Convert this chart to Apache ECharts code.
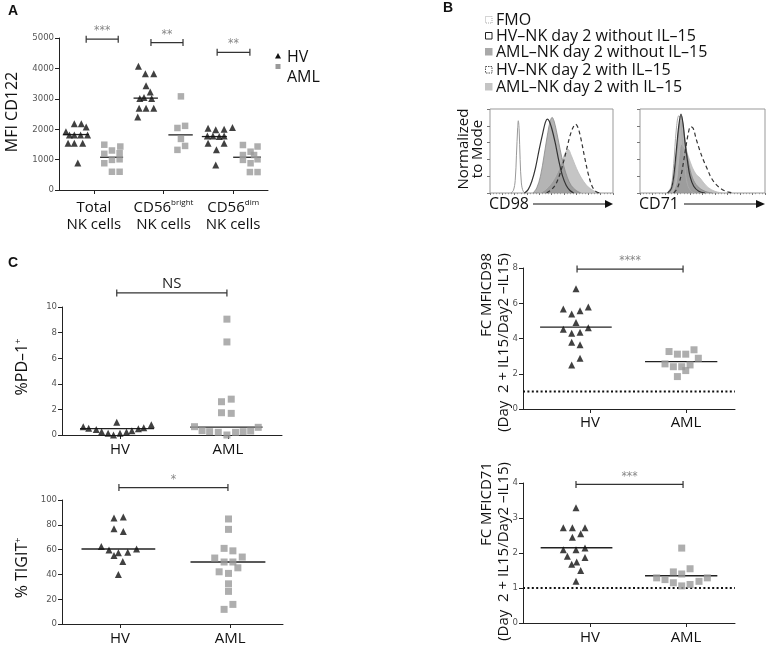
<!DOCTYPE html>
<html><head><meta charset="utf-8">
<script src="https://cdn.jsdelivr.net/npm/echarts@6/dist/echarts.min.js"></script>
<style>html,body{margin:0;padding:0;background:#fff}#c{width:767px;height:646px}</style>
</head><body><div id="c"></div>
<script>
// ================= DATA =================
// ---- Panel A: MFI CD122 ----
const aCategories = ['Total', 'CD56bright', 'CD56dim'];
const aHVTotal   = [1920,2180,2180,2070,1810,1810,1810,1810,1540,1540,1540,890];
const aHVTotalX  = [-0.40,-0.28,-0.18,-0.11,-0.35,-0.28,-0.19,-0.09,-0.37,-0.28,-0.16,-0.23];
const aAMLTotal  = [1490,1430,1300,1210,1190,990,1010,880,600,600];
const aAMLTotalX = [0.15,0.38,0.26,0.37,0.15,0.26,0.37,0.15,0.26,0.37];
const aHVBright  = [4070,3820,3820,3430,3220,3010,3040,3010,2690,2690,2690,2400];
const aHVBrightX = [-0.36,-0.26,-0.14,-0.25,-0.19,-0.34,-0.28,-0.17,-0.35,-0.25,-0.14,-0.37];
const aAMLBright  = [3080,2040,2110,1680,1320,1450];
const aAMLBrightX = [0.25,0.20,0.31,0.25,0.20,0.31];
const aHVDim   = [2030,1980,2000,2060,1780,1780,1760,1780,1540,1320,1540,820];
const aHVDimX  = [-0.36,-0.25,-0.13,-0.01,-0.37,-0.29,-0.20,-0.13,-0.36,-0.24,-0.13,-0.25];
const aAMLDim  = [1480,1430,1260,1150,1150,1010,990,880,590,590];
const aAMLDimX = [0.14,0.35,0.25,0.14,0.30,0.35,0.14,0.25,0.24,0.35];
const aMedHV  = [1824,3022,1758];
const aMedAML = [1077,1813,1077];
const aSig  = ['***','**','**'];
const aSigY = [4960,4850,4530];

// ---- Panel B: histograms [channel %, normalized %] ----
const cd98FMO    = [[17,0],[19,3],[20.5,15],[21.5,45],[22.5,78],[23,86],[23.7,75],[24.5,40],[25.5,12],[27,2],[29,0]];
const cd98HVno   = [[28,0],[31,4],[34,14],[37,30],[40,52],[43,72],[45,84],[46.5,88],[48,86],[50,78],[53,60],[56,38],[59,20],[62,9],[65,3],[68,0]];
const cd98AMLno  = [[35,0],[38,6],[41,20],[44,45],[47,72],[49,86],[50.5,90],[52,86],[54,74],[57,52],[60,32],[63,18],[66,9],[70,3],[74,0]];
const cd98AMLil  = [[40,0],[45,4],[50,12],[54,22],[58,36],[61,47],[63.5,52],[66,45],[69,34],[72,24],[76,14],[80,7],[84,3],[89,0]];
const cd98HVil   = [[46,0],[50,4],[54,12],[58,28],[62,50],[65,68],[67.5,78],[69.5,82],[71.5,78],[74,64],[77,42],[80,22],[83,8],[86,2],[89,0]];
const cd71FMO    = [[22,0],[25,8],[27,35],[29,75],[31,92],[32.5,88],[34,60],[36,30],[38,10],[41,2],[44,0]];
const cd71HVno   = [[22,0],[25,5],[27,20],[29,50],[31,80],[32.8,94],[34.5,82],[36,60],[38,38],[40,20],[43,8],[47,2],[52,0]];
const cd71AMLno  = [[23,0],[26,6],[28,25],[30,60],[32,88],[33,92],[34.5,80],[36.5,58],[39,35],[42,18],[46,8],[52,2],[58,0]];
const cd71AMLil  = [[26,0],[29,12],[31,40],[33,58],[35,55],[37,50],[39,42],[42,30],[45,22],[48,18],[51,12],[55,6],[60,2],[66,0]];
const cd71HVil   = [[27,0],[30,6],[33,22],[36,48],[38.5,70],[40.5,79],[42.5,77],[45,64],[48,50],[51,38],[54,28],[57,18],[61,10],[66,4],[71,1],[75,0]];
const legendB = ['FMO','HV\u2013NK day 2 without IL\u201315','AML\u2013NK day 2 without IL\u201315','HV\u2013NK day 2 with IL\u201315','AML\u2013NK day 2 with IL\u201315'];

// ---- Panel C ----
const groupsC = ['HV','AML'];
const pd1HV   = [0.65,0.52,0.42,0.26,0.13,0.0,0.13,0.23,0.34,0.49,0.57,0.8,0.99];
const pd1HVX  = [-0.34,-0.29,-0.22,-0.17,-0.11,-0.06,0,0.06,0.11,0.17,0.22,0.29,-0.03];
const pd1AML  = [0.65,0.34,0.26,0.21,0,0.21,0.26,0.31,0.6,1.74,1.69,2.6,2.8,7.27,9.05];
const pd1AMLX = [-0.31,-0.24,-0.17,-0.09,-0.01,0.07,0.14,0.21,0.28,-0.06,0.03,-0.06,0.03,-0.01,-0.01];
const pd1Med  = [0.5,0.62];
const tigitHV   = [85.5,86.3,76.8,74.5,62.4,59.7,60.5,55.3,57.4,57.9,50.5,40];
const tigitHVX  = [-0.055,0.03,-0.055,0.03,-0.17,-0.10,0.15,-0.055,-0.015,0.07,0.025,-0.015];
const tigitAML  = [84.7,76.3,61,59,53.2,50,50,54,45.3,42.1,40.8,32.4,26.3,15.8,11.8];
const tigitAMLX = [-0.015,-0.015,-0.055,0.025,-0.14,-0.055,0.025,0.11,0.07,-0.10,-0.015,-0.015,-0.015,0.025,-0.055];
const tigitMed  = [60.5,50];
const cd98HV   = [6.82,5.67,5.39,5.58,5.79,4.91,4.53,4.3,4.36,4.61,3.79,3.64,2.88,2.5];
const cd98HVX  = [-0.146,-0.278,-0.191,-0.104,-0.018,-0.146,-0.278,-0.191,-0.104,-0.018,-0.191,-0.104,-0.104,-0.191];
const cd98AML  = [3.26,3.11,3.11,3.36,2.88,2.56,2.4,2.4,2.5,2.18,1.84];
const cd98AMLX = [-0.177,-0.09,-0.003,0.083,0.128,-0.219,-0.132,-0.045,0.042,-0.003,-0.09];
const cd98Med  = [4.64,2.69];
const cd71HV   = [3.29,2.72,2.72,2.72,2.45,2.55,2.09,2.09,2.14,1.91,1.87,1.68,1.74,1.5,1.19];
const cd71HVX  = [-0.146,-0.278,-0.184,-0.052,-0.184,-0.097,-0.278,-0.146,-0.052,-0.236,-0.052,-0.191,-0.139,-0.097,-0.146];
const cd71AML  = [2.14,1.29,1.24,1.46,1.4,1.55,1.15,1.06,1.1,1.19,1.29];
const cd71AMLX = [-0.045,-0.306,-0.219,-0.132,-0.045,0.042,-0.132,-0.045,0.042,0.135,0.222];
const cd71Med  = [2.15,1.35];
const foldBaseline = 1;
const sigC = {pd1:'NS', tigit:'*', cd98:'****', cd71:'***'};

// ================= STYLE / LAYOUT =================
const font = "'Open Sans', 'DejaVu Sans', sans-serif";
const tickFont = "'Liberation Sans Narrow','DejaVu Sans Condensed','Liberation Sans',sans-serif";
const hvColor = '#111';
const amlColor = '#9a9a9a';
const axisLineStyle = {color:'#222', width:1};

function yAxisCfg(g, min, max, interval) {
  return {gridIndex:g, type:'value', min, max, interval,
    axisLine:{show:true, onZero:false, lineStyle:axisLineStyle},
    axisTick:{show:true, length:4, lineStyle:axisLineStyle},
    axisLabel:{fontFamily:tickFont, fontSize:9.5, color:'#555', margin:5, formatter:(v)=>String(v)},
    splitLine:{show:false}};
}
function xAxisCfg(g, min, max, ticks, labels, extra) {
  return Object.assign({gridIndex:g, type:'value', min, max,
    axisLine:{show:true, onZero:false, lineStyle:axisLineStyle},
    axisTick:{show:true, length:4, customValues:ticks, lineStyle:axisLineStyle},
    axisLabel:{customValues:ticks, formatter:(v)=>labels[Math.round(v)], fontFamily:font, fontSize:15, color:'#111', margin:7},
    splitLine:{show:false}}, extra || {});
}
function scatter(g, xs, ys, offset, sym, color, size) {
  return {type:'scatter', xAxisIndex:g, yAxisIndex:g, data: ys.map((v,i)=>[offset + xs[i], v]),
    symbol:sym, symbolSize:size, itemStyle:{color}, clip:false, silent:true, z:5};
}
function hline(g, x1, x2, y, style) {
  return {type:'custom', xAxisIndex:g, yAxisIndex:g, data:[[x1,x2,y]], encode:{x:[0,1], y:2}, silent:true, z:4,
    renderItem:(p, api)=>{
      const a = api.coord([api.value(0), api.value(2)]);
      const b = api.coord([api.value(1), api.value(2)]);
      return {type:'line', shape:{x1:a[0], y1:a[1], x2:b[0], y2:b[1]}, style:Object.assign({stroke:'#222', lineWidth:1.3}, style||{})};
    }};
}
function bracket(g, x1, x2, y, label, tstyle) {
  return {type:'custom', xAxisIndex:g, yAxisIndex:g, data:[[x1,x2,y]], encode:{x:[0,1], y:2}, silent:true, z:4, clip:false,
    renderItem:(p, api)=>{
      const a = api.coord([api.value(0), api.value(2)]);
      const b = api.coord([api.value(1), api.value(2)]);
      const st = {stroke:'#333', lineWidth:1.2};
      return {type:'group', children:[
        {type:'line', shape:{x1:a[0], y1:a[1], x2:b[0], y2:b[1]}, style:st},
        {type:'line', shape:{x1:a[0], y1:a[1]-3.5, x2:a[0], y2:a[1]+3.5}, style:st},
        {type:'line', shape:{x1:b[0], y1:b[1]-3.5, x2:b[0], y2:b[1]+3.5}, style:st},
        {type:'text', style:Object.assign({text:label, x:(a[0]+b[0])/2, y:a[1]-2, align:'center', verticalAlign:'bottom',
          fill:'#888', font:'12px ' + tickFont}, tstyle||{})}
      ]};
    }};
}
function hist(g, data, line, area) {
  const s = {type:'line', xAxisIndex:g, yAxisIndex:g, data, smooth:0.35, symbol:'none', silent:true,
    lineStyle:line, clip:true};
  if (area) s.areaStyle = area;
  return s;
}

const grids = [
  {left:59, top:38, width:209, height:152},
  {left:490, top:109, width:123, height:84, show:true, borderColor:'#999', borderWidth:1},
  {left:640, top:109, width:125, height:84, show:true, borderColor:'#999', borderWidth:1},
  {left:62, top:307, width:220, height:128},
  {left:62, top:500, width:221, height:127},
  {left:523, top:268, width:212, height:141},
  {left:523, top:483, width:212, height:140}
];

const aLabels = ['{n|Total}\n{n|NK cells}', '{n|CD56}{s|bright}\n{n|NK cells}', '{n|CD56}{s|dim}\n{n|NK cells}'];
const richA = {n:{fontFamily:font, fontSize:15, color:'#111', lineHeight:17},
               s:{fontFamily:font, fontSize:8, color:'#111', verticalAlign:'top', lineHeight:9}};

function histX(g) {
  return {gridIndex:g, type:'value', min:0, max:100, interval:10,
    axisLine:{show:false}, axisLabel:{show:false}, splitLine:{show:false},
    axisTick:{show:true, length:2, lineStyle:{color:'#777'}},
    minorTick:{show:true, length:1.2, splitNumber:4, lineStyle:{color:'#999'}}};
}
function histY(g) {
  return {gridIndex:g, type:'value', min:0, max:100, interval:20,
    axisLine:{show:false}, axisLabel:{show:false}, splitLine:{show:false},
    axisTick:{show:true, length:3, lineStyle:{color:'#777'}}};
}

const xAxes = [
  xAxisCfg(0, -0.5, 2.5, [0,1,2], aLabels, {}),
  histX(1), histX(2),
  xAxisCfg(3, -0.537, 1.5, [0,1], groupsC),
  xAxisCfg(4, -0.527, 1.48, [0,1], groupsC),
  xAxisCfg(5, -0.698, 1.51, [0,1], groupsC),
  xAxisCfg(6, -0.698, 1.51, [0,1], groupsC)
];
xAxes[0].axisLabel.rich = richA;
xAxes[0].axisLabel.margin = 9;
xAxes[5].axisLabel.margin = 6;

const yAxes = [
  yAxisCfg(0, 0, 5000, 1000),
  histY(1), histY(2),
  yAxisCfg(3, 0, 10, 2),
  yAxisCfg(4, 0, 100, 20),
  yAxisCfg(5, 0, 8, 2),
  yAxisCfg(6, 0, 4, 1)
];

const series = [];
// Panel A
const aHVs = [[aHVTotal,aHVTotalX],[aHVBright,aHVBrightX],[aHVDim,aHVDimX]];
const aAMLs = [[aAMLTotal,aAMLTotalX],[aAMLBright,aAMLBrightX],[aAMLDim,aAMLDimX]];
const aMedHVSpan = [[-0.44,-0.07],[-0.43,-0.08],[-0.45,-0.09]];
const aMedAMLSpan = [[0.09,0.42],[0.07,0.42],[0.0,0.40]];
const aSigSpan = [[-0.11,0.35],[-0.18,0.28],[-0.23,0.24]];
for (let i = 0; i < 3; i++) {
  series.push(scatter(0, aHVs[i][1], aHVs[i][0], i, 'triangle', hvColor, 7));
  series.push(scatter(0, aAMLs[i][1], aAMLs[i][0], i, 'rect', amlColor, 6.5));
  series.push(hline(0, i + aMedHVSpan[i][0], i + aMedHVSpan[i][1], aMedHV[i]));
  series.push(hline(0, i + aMedAMLSpan[i][0], i + aMedAMLSpan[i][1], aMedAML[i]));
  series.push(bracket(0, i + aSigSpan[i][0], i + aSigSpan[i][1], aSigY[i], aSig[i]));
}
// Panel B histograms
const areaAMLil = {color:'rgba(178,178,178,0.75)', opacity:1};
const areaAMLno = {color:'rgba(130,130,130,0.6)', opacity:1};
series.push(hist(1, cd98AMLil, {color:'#bbb', width:0.8}, areaAMLil));
series.push(hist(1, cd98AMLno, {color:'#888', width:0.8}, areaAMLno));
series.push(hist(1, cd98FMO, {color:'#999', width:1}));
series.push(hist(1, cd98HVno, {color:'#333', width:1.2}));
series.push(hist(1, cd98HVil, {color:'#333', width:1.2, type:[4,3]}));
series.push(hist(2, cd71AMLil, {color:'#bbb', width:0.8}, areaAMLil));
series.push(hist(2, cd71AMLno, {color:'#888', width:0.8}, areaAMLno));
series.push(hist(2, cd71FMO, {color:'#aaa', width:1}));
series.push(hist(2, cd71HVno, {color:'#333', width:1.2}));
series.push(hist(2, cd71HVil, {color:'#333', width:1.2, type:[4,3]}));
// Panel C PD-1
series.push(scatter(3, pd1HVX, pd1HV, 0, 'triangle', hvColor, 7));
series.push(scatter(3, pd1AMLX, pd1AML, 1, 'rect', amlColor, 7));
series.push(hline(3, -0.37, 0.315, pd1Med[0]));
series.push(hline(3, 1 - 0.35, 1 + 0.32, pd1Med[1]));
series.push(bracket(3, -0.03, 0.99, 11.1, sigC.pd1, {fill:'#222', font:'15px ' + font}));
// TIGIT
series.push(scatter(4, tigitHVX, tigitHV, 0, 'triangle', hvColor, 7));
series.push(scatter(4, tigitAMLX, tigitAML, 1, 'rect', amlColor, 7));
series.push(hline(4, -0.35, 0.32, tigitMed[0]));
series.push(hline(4, 1 - 0.36, 1 + 0.32, tigitMed[1]));
series.push(bracket(4, -0.01, 0.98, 110, sigC.tigit));
// CD98 FC
series.push(hline(5, -0.698, 1.51, foldBaseline, {lineDash:[2,2.4], lineWidth:2, stroke:'#111'}));
series.push(scatter(5, cd98HVX, cd98HV, 0, 'triangle', hvColor, 7));
series.push(scatter(5, cd98AMLX, cd98AML, 1, 'rect', amlColor, 7));
series.push(hline(5, -0.52, 0.226, cd98Med[0]));
series.push(hline(5, 1 - 0.427, 1 + 0.326, cd98Med[1]));
series.push(bracket(5, -0.135, 0.969, 7.94, sigC.cd98));
// CD71 FC
series.push(hline(6, -0.698, 1.51, foldBaseline, {lineDash:[2,2.4], lineWidth:2, stroke:'#111'}));
series.push(scatter(6, cd71HVX, cd71HV, 0, 'triangle', hvColor, 7));
series.push(scatter(6, cd71AMLX, cd71AML, 1, 'rect', amlColor, 7));
series.push(hline(6, -0.514, 0.233, cd71Med[0]));
series.push(hline(6, 1 - 0.427, 1 + 0.326, cd71Med[1]));
series.push(bracket(6, -0.146, 0.969, 3.96, sigC.cd71));

// ================= GRAPHIC (text, legends) =================
function txt(x, y, text, fs, opts) {
  return Object.assign({type:'text', x, y, style:Object.assign({text, font: fs + 'px ' + font, fill:'#111',
    align:'left', verticalAlign:'middle'}, (opts && opts.style) || {})}, (opts && opts.el) || {});
}
function rtxt(x, y, text, fs, align, rich) {
  return {type:'text', x, y, rotation:Math.PI/2, style:{text, font: fs + 'px ' + font, fill:'#111',
    align: align || 'center', verticalAlign:'middle', rich: rich}};
}
const letterFont = "bold 14px 'Liberation Sans', Arial, sans-serif";
const graphic = [
  {type:'text', x:8, y:11, style:{text:'A', font:letterFont, fill:'#111', verticalAlign:'middle'}},
  {type:'text', x:443, y:8, style:{text:'B', font:letterFont, fill:'#111', verticalAlign:'middle'}},
  {type:'text', x:8, y:263, style:{text:'C', font:letterFont, fill:'#111', verticalAlign:'middle'}},
  // Panel A legend
  {type:'polygon', shape:{points:[[278,53],[281,58.5],[275,58.5]]}, style:{fill:hvColor}},
  txt(287, 57, 'HV', 16),
  {type:'rect', shape:{x:275.5, y:64, width:5, height:5}, style:{fill:amlColor}},
  txt(287, 77, 'AML', 16),
  // Panel A y title
  rtxt(12, 112, 'MFI CD122', 16),
  // Panel B legend
  {type:'rect', shape:{x:485.5, y:16.5, width:6.5, height:6.5}, style:{fill:'#fff', stroke:'#aaa', lineWidth:1, lineDash:[1,1]}},
  {type:'rect', shape:{x:485.5, y:32.5, width:6.5, height:6.5}, style:{fill:'#fff', stroke:'#222', lineWidth:1}},
  {type:'rect', shape:{x:485, y:48, width:7.5, height:7.5}, style:{fill:'#a9a9a9'}},
  {type:'rect', shape:{x:485.5, y:66.5, width:6.5, height:6.5}, style:{fill:'#fff', stroke:'#555', lineWidth:1, lineDash:[1.5,1]}},
  {type:'rect', shape:{x:485, y:83, width:7.5, height:7.5}, style:{fill:'#c4c4c4'}},
  txt(496, 20, legendB[0], 16),
  txt(496, 36, legendB[1], 16),
  txt(496, 52, legendB[2], 16),
  txt(496, 70, legendB[3], 16),
  txt(496, 87, legendB[4], 16),
  // histogram labels
  rtxt(464, 149, 'Normalized', 15),
  rtxt(478, 149, 'to Mode', 15),
  txt(489, 204, 'CD98', 16),
  {type:'line', shape:{x1:533, y1:204, x2:606, y2:204}, style:{stroke:'#111', lineWidth:1.2}},
  {type:'polygon', shape:{points:[[605,200],[613,204],[605,208]]}, style:{fill:'#111'}},
  txt(639, 204, 'CD71', 16),
  {type:'line', shape:{x1:684, y1:204, x2:757, y2:204}, style:{stroke:'#111', lineWidth:1.2}},
  {type:'polygon', shape:{points:[[756,200],[765,204],[756,208]]}, style:{fill:'#111'}},
  // Panel C y titles
  rtxt(22, 367, '{n|%PD\u20131}{s|+}', 16, 'center',
       {n:{font:'16px ' + font, fill:'#111'}, s:{font:'9px ' + font, fill:'#111', verticalAlign:'top'}}),
  rtxt(22, 568, '{n|% TIGIT}{s|+}', 16, 'center',
       {n:{font:'16px ' + font, fill:'#111'}, s:{font:'9px ' + font, fill:'#111', verticalAlign:'top'}}),
  rtxt(487, 253, 'FC MFICD98', 15, 'right'),
  rtxt(504, 253, '(Day  2 + IL15/Day2 \u2013IL15)', 15, 'right'),
  rtxt(487, 462, 'FC MFICD71', 15, 'right'),
  rtxt(504, 462, '(Day  2 + IL15/Day2 \u2013IL15)', 15, 'right')
];

const chart = echarts.init(document.getElementById('c'), null, {renderer:'canvas'});
chart.setOption({
  animation:false,
  backgroundColor:'#fff',
  grid: grids,
  xAxis: xAxes,
  yAxis: yAxes,
  series,
  graphic
});
</script>
</body></html>
